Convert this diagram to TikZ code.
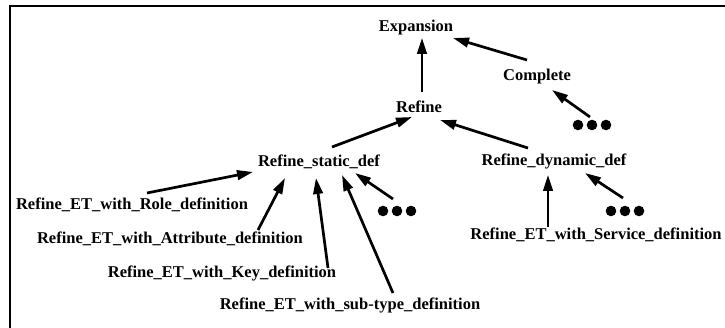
\documentclass[tikz,border=0pt]{standalone}
\usepackage{fontspec}
\setmainfont{Liberation Serif}
\usetikzlibrary{arrows.meta,calc}
\begin{document}
\begin{tikzpicture}[x=1pt,y=-1pt,
  lbl/.style={font=\bfseries\fontsize{16.5}{18}\selectfont, inner sep=0pt},
  arr/.style={line width=2.7pt, -{Triangle[length=16pt,width=9.5pt]}},
  dots/.style={minimum width=42pt, minimum height=12pt, inner sep=0pt,
    path picture={\fill ([xshift=-14pt]path picture bounding box.center) circle[radius=5.3pt]
      (path picture bounding box.center) circle[radius=5.3pt]
      ([xshift=14pt]path picture bounding box.center) circle[radius=5.3pt];}},
  frame/.style={line width=2.4pt}]
\useasboundingbox (0,0) rectangle (725,328);

% open frame: top and left edges
\draw[frame] (725,6) -- (10,6) -- (10,328);

% hierarchy
\node[lbl] (exp)  at (416,28)  {Expansion};
\node[lbl] (comp) at (537,77)  {Complete};
\node[lbl] (ref)  at (419,107) {Refine};
\node[dots] (dC)  at (592,125) {};
\node[lbl] (stat) at (319,162) {Refine\_static\_def};
\node[lbl] (dyn)  at (554,161) {Refine\_dynamic\_def};
\node[dots] (dS)  at (397,211) {};
\node[dots] (dD)  at (625,211) {};
\node[lbl] (role) at (132,205) {Refine\_ET\_with\_Role\_definition};
\node[lbl] (attr) at (170,239) {Refine\_ET\_with\_Attribute\_definition};
\node[lbl] (key)  at (222,273) {Refine\_ET\_with\_Key\_definition};
\node[lbl] (sub)  at (350,305) {Refine\_ET\_with\_sub-type\_definition};
\node[lbl] (serv) at (596,235) {Refine\_ET\_with\_Service\_definition};

% specialisation arrows, child to parent
\draw[arr] ($(ref)+(3,-15)$)   -- ($(exp)+(6,10)$);
\draw[arr] ($(comp)+(-10,-17)$) -- ($(exp)+(37,10)$);
\draw[arr] ($(dC)+(-2,-8)$)    -- ($(comp)+(15,13)$);
\draw[arr] ($(stat)+(13,-15)$) -- ($(ref)+(-7,10)$);
\draw[arr] ($(dyn)+(-26,-13)$) -- ($(ref)+(21,13)$);
\draw[arr] ($(role)+(15,-12)$) -- ($(stat)+(-66,10)$);
\draw[arr] ($(attr)+(88,-9)$)  -- ($(stat)+(-34,16)$);
\draw[arr] ($(key)+(106,-5)$)  -- ($(stat)+(-3,16)$);
\draw[arr] ($(sub)+(43,-12)$)  -- ($(stat)+(23,13)$);
\draw[arr] ($(dS)+(-4,-12)$)   -- ($(stat)+(36,11)$);
\draw[arr] ($(serv)+(-48,-8)$) -- ($(dyn)+(-6,14)$);
\draw[arr] ($(dD)+(-2,-13)$)   -- ($(dyn)+(31,12)$);
\end{tikzpicture}
\end{document}
